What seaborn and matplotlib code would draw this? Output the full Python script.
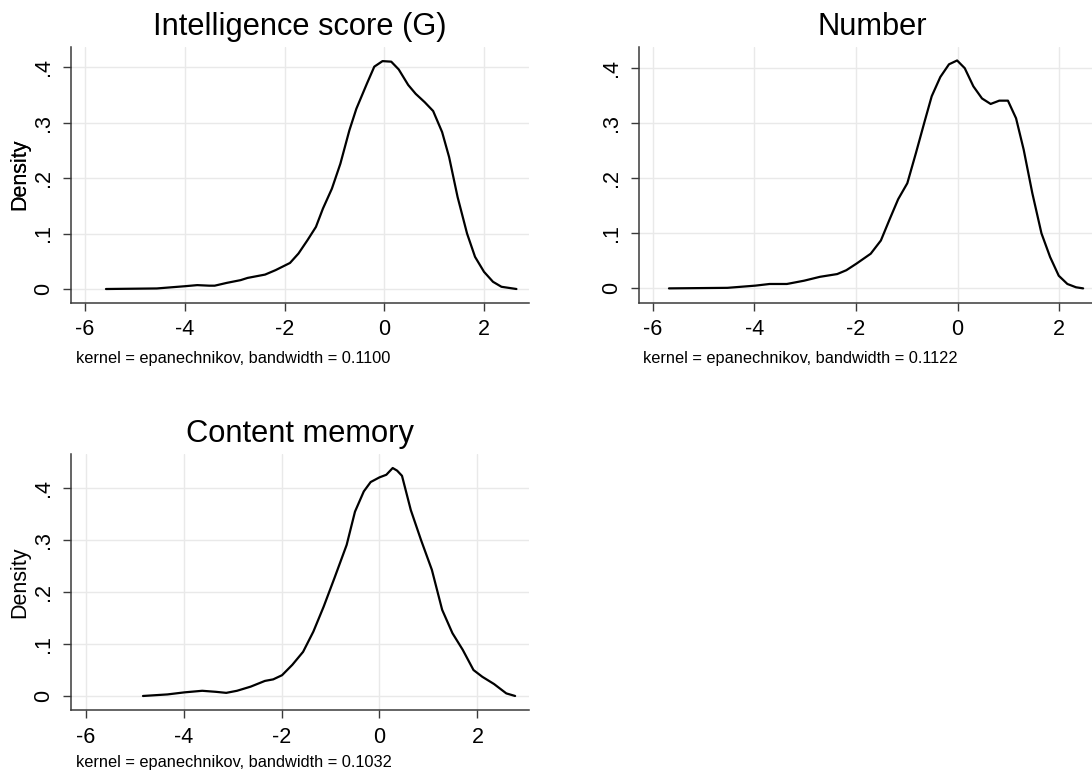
import numpy as np
import pandas as pd
import matplotlib
matplotlib.use("Agg")
import matplotlib.pyplot as plt
import seaborn as sns

# ---------------- data ----------------
titles = ["Intelligence score (G)", "Number", "Content memory"]
captions = ["kernel = epanechnikov, bandwidth = 0.1100",
            "kernel = epanechnikov, bandwidth = 0.1122",
            "kernel = epanechnikov, bandwidth = 0.1032"]

g_x = [-5.58, -4.56, -4.00, -3.75, -3.51, -3.40, -3.16, -2.88, -2.74, -2.39, -2.18,
       -1.89, -1.72, -1.54, -1.37, -1.23, -1.05, -0.88, -0.70, -0.56, -0.35, -0.20,
       -0.035, 0.14, 0.29, 0.48, 0.63, 0.81, 0.98, 1.16, 1.30, 1.47, 1.66, 1.82,
       2.00, 2.18, 2.35, 2.65]
g_y = [0.000, 0.001, 0.005, 0.007, 0.006, 0.006, 0.011, 0.016, 0.020, 0.026, 0.034,
       0.047, 0.064, 0.088, 0.112, 0.145, 0.181, 0.226, 0.286, 0.325, 0.370, 0.401,
       0.411, 0.410, 0.396, 0.368, 0.352, 0.337, 0.321, 0.283, 0.238, 0.166, 0.100,
       0.058, 0.031, 0.013, 0.004, 0.000]

num_x = [-5.68, -4.53, -3.98, -3.70, -3.36, -3.02, -2.71, -2.37, -2.19, -1.99, -1.71,
         -1.51, -1.34, -1.17, -0.99, -0.82, -0.65, -0.51, -0.34, -0.17, -0.01, 0.14,
         0.31, 0.48, 0.65, 0.82, 0.99, 1.15, 1.30, 1.47, 1.65, 1.82, 1.99, 2.16,
         2.33, 2.47]
num_y = [0.000, 0.001, 0.005, 0.008, 0.008, 0.014, 0.021, 0.026, 0.033, 0.045, 0.063,
         0.087, 0.125, 0.162, 0.191, 0.246, 0.303, 0.349, 0.384, 0.407, 0.414, 0.400,
         0.367, 0.345, 0.335, 0.341, 0.341, 0.309, 0.252, 0.173, 0.100, 0.057, 0.023,
         0.008, 0.002, 0.000]

cm_x = [-4.83, -4.33, -3.98, -3.62, -3.34, -3.13, -2.91, -2.63, -2.34, -2.17, -1.99,
        -1.78, -1.56, -1.35, -1.14, -0.92, -0.67, -0.50, -0.32, -0.18, 0.00, 0.14,
        0.27, 0.36, 0.46, 0.64, 0.85, 1.07, 1.28, 1.49, 1.70, 1.92, 2.10, 2.34,
        2.59, 2.77]
cm_y = [0.000, 0.003, 0.007, 0.010, 0.008, 0.006, 0.010, 0.018, 0.029, 0.032, 0.040,
        0.060, 0.085, 0.124, 0.172, 0.227, 0.291, 0.355, 0.394, 0.412, 0.421, 0.426,
        0.439, 0.434, 0.424, 0.358, 0.300, 0.243, 0.166, 0.121, 0.089, 0.050, 0.037,
        0.023, 0.005, 0.000]

x_ticks = [-6, -4, -2, 0, 2]
x_ticklabels = ["-6", "-4", "-2", "0", "2"]
y_ticks = [0, 0.1, 0.2, 0.3, 0.4]
y_ticklabels = ["0", ".1", ".2", ".3", ".4"]
y_label = "Density"

series = [(g_x, g_y), (num_x, num_y), (cm_x, cm_y)]

# ---------------- layout / style ----------------
sns.set_theme(style="white")
plt.rcParams['font.family'] = ['Liberation Sans', 'DejaVu Sans']
plt.rcParams['text.color'] = 'black'
plt.rcParams['axes.labelcolor'] = 'black'

W, H = 1092, 776
fig = plt.figure(figsize=(W / 100, H / 100), dpi=100)

# pixel boxes: left, right, top, bottom
boxes = [(71, 529.3, 46.7, 302.7), (639, 1106, 46.7, 302.7), (71, 529.3, 454, 710)]
xlims = [(-6.281, 2.908), (-6.27, 2.92), (-6.30, 3.06)]
ylims = [(-0.0247, 0.437), (-0.026, 0.439), (-0.027, 0.466)]
cap_pos = [(76, 358), (643, 358), (76, 763)]

dark = "#3a3a3a"
for i, ((xs, ys), (l, r, t, b)) in enumerate(zip(series, boxes)):
    ax = fig.add_axes([l / W, 1 - b / H, (r - l) / W, (b - t) / H])
    df = pd.DataFrame({"x": xs, "y": ys})
    sns.lineplot(data=df, x="x", y="y", ax=ax, color="black", linewidth=1.6,
                 sort=False, estimator=None)
    ax.set_xlim(*xlims[i])
    ax.set_ylim(*ylims[i])
    ax.set_xticks(x_ticks)
    ax.set_xticklabels(x_ticklabels)
    ax.set_yticks(y_ticks)
    ax.set_yticklabels(y_ticklabels, rotation=90, va="center")
    ax.grid(True, color="#e9e9e9", linewidth=1.0)
    ax.set_axisbelow(True)
    for s in ["top", "right"]:
        ax.spines[s].set_visible(False)
    for s in ["left", "bottom"]:
        ax.spines[s].set_color(dark)
        ax.spines[s].set_linewidth(1.1)
    ax.tick_params(axis="both", which="major", direction="out", length=5.5,
                   width=1.0, color=dark, labelsize=15.5, labelcolor="black",
                   left=True, bottom=True)
    ax.tick_params(axis="x", pad=6.5)
    ax.tick_params(axis="y", pad=6.5)
    ax.set_xlabel("")
    ax.set_ylabel(y_label, fontsize=15.5)
    ax.yaxis.set_label_coords((30 - l) / (r - l), 0.5)
    ax.set_title(titles[i], fontsize=22.2, pad=8.5, color="black")
    cx, cy = cap_pos[i]
    fig.text(cx / W, 1 - cy / H, captions[i], fontsize=11.8, ha="left", va="center")

fig.savefig("out.png", dpi=100, facecolor="white")
